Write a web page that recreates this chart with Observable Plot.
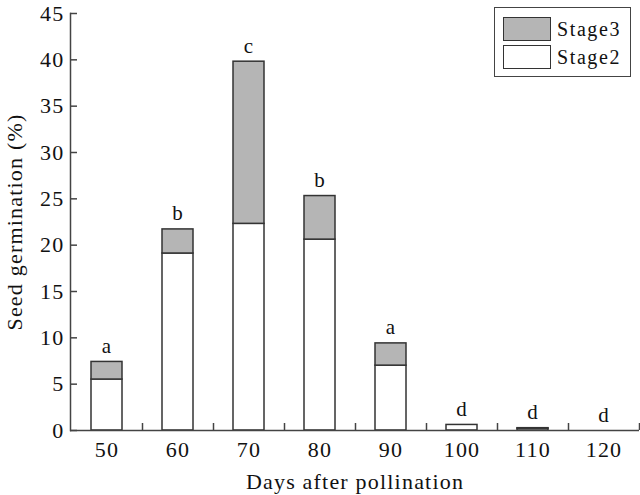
<!DOCTYPE html>
<html>
<head>
<meta charset="utf-8">
<script src="https://cdn.jsdelivr.net/npm/d3@7"></script>
<script src="https://cdn.jsdelivr.net/npm/@observablehq/plot@0.6"></script>
<style>
  html, body { margin: 0; padding: 0; background: #fff; }
  #wrap { position: relative; width: 640px; height: 495px; }
  #wrap svg text { letter-spacing: 1.2px; }
  .legend { position: absolute; left: 494px; top: 7px; width: 135px; height: 68px;
    border: 1.5px solid #444; background: #fff; font-family: "Liberation Serif", serif;
    font-size: 20px; letter-spacing: 1.6px; color: #111; }
  .legend .row { position: absolute; left: 8px; height: 24px; display: flex; align-items: center; }
  .legend .sw { width: 46px; height: 22px; border: 1.5px solid #333; box-sizing: content-box; margin-right: 6px; }
</style>
</head>
<body>
<div id="wrap"></div>
<script>
const days = ["50", "60", "70", "80", "90", "100", "110", "120"];
const stage2 = [5.5, 19.1, 22.3, 20.6, 7.0, 0.6, 0.2, 0];
const stage3 = [1.9, 2.6, 17.5, 4.7, 2.4, 0, 0.05, 0];
const letters = ["a", "b", "c", "b", "a", "d", "d", "d"];
const yTicks = [0, 5, 10, 15, 20, 25, 30, 35, 40, 45];
const seriesNames = ["Stage3", "Stage2"];
const seriesColors = ["#b5b5b5", "#ffffff"];

const rows2 = days.map((d, i) => ({day: d, value: stage2[i]})).filter(r => r.value > 0);
const rows3 = days.map((d, i) => ({day: d, base: stage2[i], top: stage2[i] + stage3[i]})).filter(r => r.top > r.base);
const labelRows = days.map((d, i) => ({day: d, total: stage2[i] + stage3[i], text: letters[i]}));

const chart = Plot.plot({
  width: 640,
  height: 495,
  marginLeft: 70,
  marginRight: 1,
  marginTop: 13,
  marginBottom: 65,
  style: {fontFamily: "Liberation Serif, serif", fontSize: "21px", color: "#111", background: "#fff"},
  x: {type: "band", domain: days, paddingInner: 0.565, paddingOuter: 0.2825, align: 0.5},
  y: {domain: [0, 45]},
  marks: [
    Plot.barY(rows2, {x: "day", y1: 0, y2: "value", fill: seriesColors[1], stroke: "#333", strokeWidth: 1.5}),
    Plot.barY(rows3, {x: "day", y1: "base", y2: "top", fill: seriesColors[0], stroke: "#333", strokeWidth: 1.5}),
    Plot.text(labelRows, {x: "day", y: "total", text: "text", dy: -9, lineAnchor: "bottom", fontSize: 21, fill: "#111"}),
    Plot.ruleY([0], {stroke: "#444", strokeWidth: 1.5}),
    Plot.frame({anchor: "left", stroke: "#444", strokeWidth: 1.5}),
    Plot.axisY({ticks: yTicks, tickSize: -7, tickPadding: 13, stroke: "#444", strokeWidth: 1.5, fill: "#111",
      label: "Seed germination (%)", labelAnchor: "center", labelArrow: "none", labelOffset: 64, fontSize: 22}),
    Plot.axisX({tickSize: -7, tickFormat: () => "", dx: 35.5, stroke: "#444", strokeWidth: 1.5, label: null}),
    Plot.axisX({tickSize: 0, tickPadding: 11, fontSize: 22, fill: "#111",
      label: "Days after pollination", labelAnchor: "center", labelArrow: "none", labelOffset: 58})
  ]
});

const wrap = document.getElementById("wrap");
wrap.appendChild(chart);

const legend = document.createElement("div");
legend.className = "legend";
seriesNames.forEach((name, i) => {
  const row = document.createElement("div");
  row.className = "row";
  row.style.top = (9 + i * 28) + "px";
  const sw = document.createElement("div");
  sw.className = "sw";
  sw.style.background = seriesColors[i];
  const lab = document.createElement("span");
  lab.textContent = name;
  row.appendChild(sw);
  row.appendChild(lab);
  legend.appendChild(row);
});
wrap.appendChild(legend);
</script>
</body>
</html>
